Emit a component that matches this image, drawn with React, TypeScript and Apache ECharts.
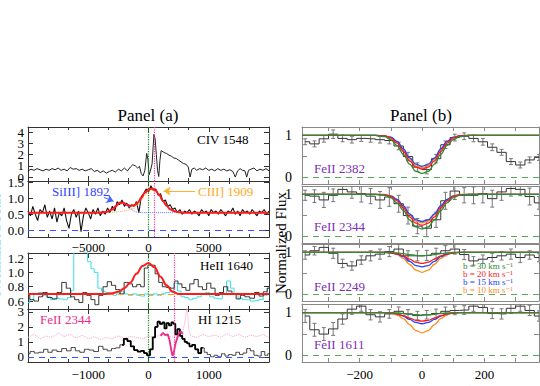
import React, { useEffect, useRef } from "react";
import * as echarts from "echarts";

const SERIF = "Times New Roman, Liberation Serif, DejaVu Serif, serif";

// ---------------- Panel (a) data ----------------
const civFlux: number[][] = [
  [-10000, 0.55], [-9750, 0.7], [-9500, 0.6], [-9250, 0.75], [-9000, 0.65], [-8750, 0.55], [-8500, 0.7],
  [-8250, 0.6], [-8000, 0.75], [-7750, 0.65], [-7500, 0.8], [-7250, 0.6], [-7000, 0.7], [-6750, 0.55],
  [-6500, 0.85], [-6250, 0.7], [-6000, 0.75], [-5750, 0.6], [-5500, 0.7], [-5250, 0.55], [-5000, 0.65],
  [-4750, 0.75], [-4500, 0.5], [-4250, 0.6], [-4000, 0.4], [-3750, 0.55], [-3500, 0.35], [-3250, 0.5],
  [-3000, 0.6], [-2750, 0.45], [-2500, 0.7], [-2250, 0.55], [-2000, 0.8], [-1750, 0.55], [-1500, 0.9],
  [-1300, 1.1], [-1100, 1.0], [-900, 0.8], [-750, 0.95], [-600, 0.3], [-450, 0.1], [-300, 0.6],
  [-150, 2.1], [-50, 1.6], [50, 0.2], [150, 0.5], [300, 1.2], [450, 3.8], [550, 3.4], [650, 2.0],
  [750, 0.6], [850, 0.05], [950, 1.5], [1050, 2.35], [1200, 2.25], [1350, 2.15], [1500, 2.1],
  [1700, 1.95], [1900, 1.85], [2100, 1.7], [2300, 1.65], [2500, 1.5], [2700, 1.35], [2900, 1.2],
  [3100, 1.15], [3300, 0.9], [3450, 0.0], [3600, 0.7], [3800, 0.8], [4000, 0.6], [4250, 0.75],
  [4500, 0.65], [4750, 0.8], [5000, 0.6], [5250, 0.7], [5500, 0.55], [5750, 0.75], [6000, 0.6],
  [6250, 0.7], [6500, 0.55], [6750, 0.65], [7000, 0.5], [7200, 0.0], [7400, 0.55], [7600, 0.75],
  [7800, 0.6], [8000, 0.55], [8150, 0.0], [8300, 0.6], [8500, 0.7], [8750, 0.8], [9000, 0.55],
  [9250, 0.7], [9500, 0.6], [9750, 0.75], [10000, 0.55],
];

const ciiiFlux: number[][] = [
  [-10000, 0.6], [-9800, 0.45], [-9600, 0.75], [-9400, 0.5], [-9200, 0.3], [-9000, 0.65], [-8800, 0.55],
  [-8600, 0.8], [-8400, 0.4], [-8200, 0.6], [-8000, 0.35], [-7800, 0.7], [-7600, 0.25], [-7400, 0.55],
  [-7200, 0.45], [-7000, 0.7], [-6800, 0.3], [-6600, 0.05], [-6400, 0.5], [-6200, 0.65], [-6000, 0.4],
  [-5800, 0.6], [-5600, -0.05], [-5400, 0.45], [-5200, 0.7], [-5000, 0.55], [-4800, 0.35], [-4600, 0.65],
  [-4400, 0.5], [-4200, 0.7], [-4000, 0.45], [-3800, 0.6], [-3600, 0.5], [-3400, 0.7], [-3200, 0.55],
  [-3000, 0.75], [-2800, 0.6], [-2600, 0.9], [-2400, 0.8], [-2200, 0.95], [-2000, 0.75], [-1800, 0.85],
  [-1600, 0.7], [-1400, 0.8], [-1200, 0.75], [-1000, 0.9], [-800, 0.55], [-600, 1.05], [-400, 1.15],
  [-200, 1.3], [0, 1.2], [200, 1.4], [400, 1.25], [600, 1.3], [800, 1.1], [1000, 1.15], [1200, 0.9],
  [1400, 0.95], [1600, 0.75], [1800, 0.8], [2000, 0.65], [2200, 0.7], [2400, 0.55], [2600, 0.65],
  [2800, 0.5], [3000, 0.6], [3200, 0.55], [3400, 0.65], [3600, 0.5], [3800, 0.6], [4000, 0.55],
  [4200, 0.45], [4400, 0.65], [4600, 0.55], [4800, 0.6], [5000, 0.45], [5200, 0.65], [5400, 0.55],
  [5600, 0.6], [5800, 0.5], [6000, 0.65], [6200, 0.55], [6400, 0.45], [6600, 0.6], [6800, 0.55],
  [7000, 0.7], [7200, 0.5], [7400, 0.6], [7600, 0.45], [7800, 0.65], [8000, 0.55], [8200, 0.6],
  [8400, 0.5], [8600, 0.65], [8800, 0.55], [9000, 0.45], [9200, 0.6], [9400, 0.55], [9600, 0.65],
  [9800, 0.5], [10000, 0.6],
];

const ciiiFitV = [-10000, -4000, -3500, -3000, -2700, -2400, -2100, -1800, -1500, -1200, -900, -600, -300, 0, 300, 600, 900, 1200, 1500, 1800, 2100, 2500, 3000, 10000];
const ciiiFit = [0.55, 0.55, 0.57, 0.65, 0.76, 0.86, 0.86, 0.8, 0.77, 0.78, 0.86, 1.02, 1.18, 1.28, 1.31, 1.25, 1.1, 0.92, 0.77, 0.66, 0.6, 0.56, 0.55, 0.55];
const siiiComp = [0.55, 0.55, 0.57, 0.65, 0.75, 0.84, 0.85, 0.78, 0.68, 0.6, 0.56, 0.55, 0.55, 0.55, 0.55, 0.55, 0.55, 0.55, 0.55, 0.55, 0.55, 0.55, 0.55, 0.55];
const ciiiComp = [0.55, 0.55, 0.55, 0.56, 0.57, 0.58, 0.6, 0.62, 0.65, 0.69, 0.78, 0.93, 1.1, 1.23, 1.27, 1.22, 1.08, 0.9, 0.76, 0.66, 0.6, 0.56, 0.55, 0.55];

const heiiFlux: number[][] = [
  [-2000, 0.68], [-1940, 0.62], [-1860, 0.6], [-1790, 0.66], [-1720, 0.72], [-1640, 0.65], [-1560, 0.63],
  [-1480, 0.72], [-1400, 0.86], [-1330, 0.78], [-1260, 0.66], [-1190, 0.62], [-1120, 0.58], [-1060, 0.72],
  [-990, 0.68], [-920, 0.62], [-860, 0.55], [-790, 0.68], [-720, 0.8], [-650, 0.87], [-580, 0.82],
  [-510, 0.76], [-440, 0.7], [-370, 0.86], [-300, 0.84], [-230, 0.8], [-160, 0.83], [-100, 0.8],
  [-40, 1.06], [20, 1.1], [80, 1.1], [140, 0.98], [200, 0.86], [260, 0.8], [330, 0.79], [400, 0.78],
  [460, 0.88], [520, 0.84], [590, 0.79], [650, 0.75], [720, 0.84], [790, 0.9], [860, 0.8], [930, 0.76],
  [1000, 0.85], [1070, 0.78], [1140, 0.68], [1210, 0.72], [1280, 0.8], [1350, 0.74], [1420, 0.7],
  [1490, 0.63], [1560, 0.68], [1640, 0.66], [1720, 0.64], [1800, 0.72], [1870, 0.67], [1940, 0.73],
  [2000, 0.78],
];

const heiiCyan: number[][] = [
  [-2000, 0.58], [-1940, 0.62], [-1870, 0.7], [-1800, 0.72], [-1730, 0.68], [-1660, 0.66], [-1590, 0.62],
  [-1520, 0.64], [-1450, 0.63], [-1380, 0.62], [-1310, 0.65], [-1260, 0.75], [-1220, 1.6], [-1160, 1.5],
  [-1100, 1.3], [-1040, 1.28], [-980, 1.15], [-930, 1.05], [-870, 1.0], [-810, 0.78], [-750, 0.74],
  [-690, 0.72], [-620, 0.7], [-560, 0.68], [-500, 0.7], [-430, 0.73], [-370, 0.7], [-300, 0.68],
  [-230, 0.7], [-160, 0.68], [-100, 0.67], [-30, 0.7], [40, 0.68], [110, 0.7], [180, 0.68], [250, 0.7],
  [320, 0.72], [390, 0.74], [450, 0.85], [510, 0.74], [570, 0.66], [640, 0.65], [700, 0.62], [770, 0.64],
  [840, 0.66], [910, 0.7], [980, 0.72], [1050, 0.66], [1120, 0.64], [1190, 0.63], [1260, 0.7],
  [1330, 0.88], [1390, 0.78], [1450, 0.7], [1520, 0.64], [1590, 0.62], [1660, 0.62], [1730, 0.6],
  [1800, 0.61], [1870, 0.62], [1940, 0.68], [2000, 0.78],
];

const heiiFitV = [-2000, -700, -600, -500, -400, -300, -200, -100, 0, 100, 200, 300, 400, 500, 2000];
const heiiFit = [0.7, 0.7, 0.71, 0.73, 0.78, 0.86, 0.98, 1.09, 1.13, 1.07, 0.94, 0.82, 0.73, 0.7, 0.7];

const hiFlux: number[][] = [
  [-2000, 0.2], [-1930, 0.35], [-1860, 0.25], [-1780, 0.3], [-1700, 0.5], [-1640, 0.3], [-1560, 0.45],
  [-1480, 0.35], [-1400, 0.55], [-1320, 0.4], [-1250, 0.62], [-1180, 0.4], [-1100, 0.3], [-1030, 0.5],
  [-950, 0.45], [-870, 0.35], [-790, 0.7], [-720, 0.5], [-650, 0.4], [-580, 0.55], [-510, 0.6],
  [-440, 0.8], [-380, 1.2], [-320, 1.05], [-270, 0.7], [-210, 0.45], [-150, 0.35], [-100, 0.4],
  [-50, 0.25], [0, 0.1], [50, 0.5], [90, 1.3], [130, 2.0], [170, 2.35], [210, 2.2], [250, 2.3],
  [280, 1.9], [320, 2.25], [360, 2.1], [400, 2.3], [430, 2.2], [460, 1.5], [500, 1.85], [540, 1.4],
  [580, 1.2], [620, 1.0], [660, 0.9], [700, 0.7], [750, 0.8], [800, 0.5], [850, 0.25], [900, 0.6],
  [950, 0.3], [1000, 0.15], [1060, 0.0], [1120, 0.1], [1180, 0.0], [1240, 0.2], [1300, 0.05],
  [1360, 0.15], [1420, 0.1], [1480, 0.3], [1540, 0.15], [1600, 0.25], [1660, 0.55], [1720, 0.4],
  [1780, 0.1], [1840, 0.05], [1900, 0.35], [1960, 0.1], [2000, 0.2],
];

const feii2344OnHi: number[][] = [
  [200, 1.4], [240, 1.6], [280, 1.45], [320, 1.5], [350, 1.1], [380, 0.4], [400, 0.05], [420, 0.3],
  [450, 0.9], [480, 1.3], [510, 1.6], [540, 1.7], [570, 1.5],
];

const feiiDotted: number[][] = [
  [-2000, 1.3], [-1900, 1.5], [-1800, 1.2], [-1700, 1.4], [-1600, 1.3], [-1500, 1.6], [-1400, 1.35],
  [-1300, 1.5], [-1200, 1.25], [-1100, 1.45], [-1000, 1.2], [-900, 1.35], [-800, 1.15], [-700, 1.3],
  [-600, 1.2], [-500, 1.4], [-400, 1.25], [-300, 1.35], [-200, 1.3], [-100, 1.2], [0, 1.4], [100, 1.3],
  [200, 1.5], [300, 1.4], [400, 1.3], [500, 1.5], [560, 1.6], [600, 2.2], [640, 3.4], [670, 1.8],
  [700, 1.4], [800, 1.3], [900, 1.5], [1000, 1.35], [1100, 1.45], [1200, 1.3], [1300, 1.55],
  [1400, 1.35], [1500, 1.5], [1600, 1.3], [1700, 1.45], [1800, 1.35], [1900, 1.5], [2000, 1.3],
];

// ---------------- Panel (b) data ----------------
const binV = [-375, -345, -315, -285, -255, -225, -195, -165, -135, -105, -75, -45, -15, 15, 45, 75, 105, 135, 165, 195, 225, 255, 285, 315, 345, 375];

const flux2382 = [0.85, 0.8, 0.92, 1.03, 0.93, 0.9, 0.93, 0.92, 0.9, 0.88, 0.75, 0.5, 0.25, 0.19, 0.45, 0.78, 0.95, 0.98, 0.93, 0.85, 0.72, 0.6, 0.38, 0.3, 0.42, 0.48];
const err2382 = [0.07, 0.07, 0.08, 0.1, 0.08, 0.08, 0.07, 0.08, 0.08, 0.08, 0.09, 0.1, 0.1, 0.1, 0.1, 0.09, 0.08, 0.08, 0.08, 0.08, 0.08, 0.07, 0.07, 0.07, 0.07, 0.07];
const flux2344 = [0.98, 0.96, 0.87, 0.98, 1.12, 1.06, 1.02, 0.96, 0.87, 0.94, 0.78, 0.5, 0.25, 0.2, 0.4, 0.85, 1.08, 0.98, 0.98, 1.02, 0.9, 1.06, 1.14, 1.12, 0.95, 0.8];
const err2344 = [0.12, 0.15, 0.18, 0.15, 0.12, 0.15, 0.2, 0.18, 0.2, 0.22, 0.2, 0.2, 0.18, 0.2, 0.18, 0.2, 0.2, 0.18, 0.2, 0.22, 0.2, 0.2, 0.18, 0.15, 0.2, 0.15];
const flux2249 = [0.94, 1.04, 1.12, 0.98, 0.74, 0.68, 0.82, 0.92, 0.96, 1.02, 1.08, 0.92, 0.92, 0.93, 0.98, 1.04, 1.08, 0.95, 0.8, 0.84, 0.88, 0.92, 0.96, 0.88, 0.94, 0.88];
const err2249 = [0.1, 0.1, 0.12, 0.12, 0.1, 0.1, 0.1, 0.12, 0.12, 0.12, 0.12, 0.12, 0.12, 0.12, 0.12, 0.12, 0.12, 0.12, 0.1, 0.1, 0.1, 0.1, 0.12, 0.12, 0.1, 0.1];
const flux1611 = [0.92, 0.6, 0.5, 0.62, 0.85, 1.08, 1.15, 0.95, 0.9, 0.97, 1.03, 0.97, 0.93, 0.95, 0.98, 1.03, 1.05, 1.06, 1.15, 1.12, 0.98, 0.97, 1.1, 1.15, 1.05, 0.92];
const err1611 = [0.15, 0.15, 0.15, 0.15, 0.12, 0.12, 0.12, 0.12, 0.12, 0.1, 0.1, 0.1, 0.1, 0.1, 0.1, 0.1, 0.1, 0.1, 0.12, 0.12, 0.12, 0.12, 0.12, 0.12, 0.12, 0.12];

const modelV = [-385, -150, -120, -100, -80, -60, -40, -20, 0, 20, 40, 60, 80, 100, 120, 150, 375];
const m2382b30 = [1, 1, 0.97, 0.9, 0.76, 0.55, 0.32, 0.15, 0.1, 0.15, 0.32, 0.55, 0.76, 0.9, 0.97, 1, 1];
const m2382b20 = [1, 1, 0.99, 0.94, 0.82, 0.62, 0.4, 0.25, 0.2, 0.25, 0.4, 0.62, 0.82, 0.94, 0.99, 1, 1];
const m2382b15 = [1, 1, 0.99, 0.96, 0.86, 0.68, 0.47, 0.32, 0.27, 0.32, 0.47, 0.68, 0.86, 0.96, 0.99, 1, 1];
const m2382b10 = [1, 1, 0.99, 0.95, 0.85, 0.66, 0.44, 0.28, 0.23, 0.28, 0.44, 0.66, 0.85, 0.95, 0.99, 1, 1];
const m2344b30 = [1, 1, 0.98, 0.92, 0.8, 0.62, 0.4, 0.23, 0.18, 0.23, 0.4, 0.62, 0.8, 0.92, 0.98, 1, 1];
const m2344b20 = [1, 1, 0.99, 0.95, 0.85, 0.68, 0.47, 0.32, 0.27, 0.32, 0.47, 0.68, 0.85, 0.95, 0.99, 1, 1];
const m2344b15 = [1, 1, 0.99, 0.96, 0.88, 0.73, 0.54, 0.4, 0.36, 0.4, 0.54, 0.73, 0.88, 0.96, 0.99, 1, 1];
const m2344b10 = [1, 1, 1, 0.97, 0.88, 0.72, 0.52, 0.37, 0.33, 0.37, 0.52, 0.72, 0.88, 0.97, 1, 1, 1];
const m2249b30 = [1, 1, 1, 1, 0.99, 0.97, 0.95, 0.93, 0.92, 0.93, 0.95, 0.97, 0.99, 1, 1, 1, 1];
const m2249b20 = [1, 1, 1, 0.99, 0.97, 0.92, 0.84, 0.77, 0.74, 0.77, 0.84, 0.92, 0.97, 0.99, 1, 1, 1];
const m2249b15 = [1, 1, 1, 0.99, 0.96, 0.9, 0.79, 0.69, 0.66, 0.69, 0.79, 0.9, 0.96, 0.99, 1, 1, 1];
const m2249b10 = [1, 1, 1, 0.99, 0.95, 0.86, 0.72, 0.58, 0.53, 0.58, 0.72, 0.86, 0.95, 0.99, 1, 1, 1];
const m1611b30 = [1, 1, 1, 1, 0.99, 0.98, 0.96, 0.95, 0.94, 0.95, 0.96, 0.98, 0.99, 1, 1, 1, 1];
const m1611b20 = [1, 1, 1, 0.99, 0.97, 0.93, 0.87, 0.82, 0.8, 0.82, 0.87, 0.93, 0.97, 0.99, 1, 1, 1];
const m1611b15 = [1, 1, 1, 0.99, 0.97, 0.92, 0.84, 0.77, 0.74, 0.77, 0.84, 0.92, 0.97, 0.99, 1, 1, 1];
const m1611b10 = [1, 1, 1, 0.99, 0.95, 0.86, 0.72, 0.58, 0.53, 0.58, 0.72, 0.86, 0.95, 0.99, 1, 1, 1];

// tick values
const yTicksCIV = [0, 1, 2, 3, 4];
const yLabelsCIVeven = [0, 2, 4];
const yLabelsCIVodd = [1, 3];
const yTicksCIII = [0, 0.5, 1.0, 1.5];
const yTicksHeII = [0.6, 0.8, 1.0, 1.2];
const yTicksHI = [0, 1, 2, 3];
const yTicksB = [0, 0.5, 1];
const yLabelsB = [0, 1];
const xTicksB = [-300, -200, -100, 0, 100, 200, 300];
const xLabelsB = [-200, 0, 200];

const C_GREEN = "#2e8b2e";
const C_RED = "#ff1a1a";
const C_BLUE = "#2244ff";
const C_ORANGE = "#ff8c1a";
const C_PURPLE = "#7a2fb8";

const zip = (xs: number[], ys: number[]) => xs.map((x, i) => [x, ys[i]]);
const fmtNum = (v: number, dec: number) => {
  const s = Math.abs(v).toFixed(dec);
  return v < 0 ? "\u2212" + s : s;
};

export default function App() {
  const ref = useRef<HTMLDivElement>(null);
  useEffect(() => {
    if (!ref.current) return;
    const chart = echarts.init(ref.current, undefined, { renderer: "svg" });

    const grids = [
      { left: 28, top: 127, width: 241, height: 54 },
      { left: 28, top: 181, width: 241, height: 56 },
      { left: 28, top: 253, width: 241, height: 56 },
      { left: 28, top: 309, width: 241, height: 53 },
      { left: 302, top: 127, width: 237, height: 57 },
      { left: 302, top: 186, width: 237, height: 57 },
      { left: 302, top: 244, width: 237, height: 57 },
      { left: 302, top: 304, width: 237, height: 58 },
    ];

    type XS = { min: number; max: number; interval?: number; ticks?: number[]; labels?: number[] | null; showLabels: boolean };
    const xSpecs: XS[] = [
      { min: -10000, max: 10000, interval: 5000, showLabels: false },
      { min: -10000, max: 10000, interval: 5000, showLabels: true },
      { min: -2000, max: 2000, interval: 1000, showLabels: false },
      { min: -2000, max: 2000, interval: 1000, showLabels: true },
      { min: -385, max: 375, ticks: xTicksB, labels: xLabelsB, showLabels: false },
      { min: -385, max: 375, ticks: xTicksB, labels: xLabelsB, showLabels: false },
      { min: -385, max: 375, ticks: xTicksB, labels: xLabelsB, showLabels: false },
      { min: -385, max: 375, ticks: xTicksB, labels: xLabelsB, showLabels: true },
    ];
    type YS = { min: number; max: number; ticks: number[]; labels: number[]; dec: number };
    const ySpecs: YS[] = [
      { min: -0.35, max: 4.45, ticks: yTicksCIV, labels: yLabelsCIVeven, dec: 0 },
      { min: -0.22, max: 1.55, ticks: yTicksCIII, labels: yTicksCIII, dec: 1 },
      { min: 0.49, max: 1.27, ticks: yTicksHeII, labels: yTicksHeII, dec: 1 },
      { min: -0.35, max: 3.2, ticks: yTicksHI, labels: yTicksHI, dec: 0 },
      { min: -0.15, max: 1.2, ticks: yTicksB, labels: yLabelsB, dec: 0 },
      { min: -0.15, max: 1.2, ticks: yTicksB, labels: yLabelsB, dec: 0 },
      { min: -0.15, max: 1.2, ticks: yTicksB, labels: yLabelsB, dec: 0 },
      { min: -0.15, max: 1.2, ticks: yTicksB, labels: yLabelsB, dec: 0 },
    ];

    const xAxes: any[] = [];
    const yAxes: any[] = [];
    xSpecs.forEach((s, gi) => {
      const col = gi < 4 ? "#333" : "#888";
      const base: any = {
        type: "value",
        gridIndex: gi,
        min: s.min,
        max: s.max,
        splitLine: { show: false },
        axisLine: { show: true, onZero: false, lineStyle: { color: col, width: 1 } },
      };
      if (s.interval) {
        base.interval = s.interval;
        base.axisTick = { show: true, inside: true, length: 5, lineStyle: { color: col } };
        base.minorTick = { show: true, splitNumber: 3, length: 3, lineStyle: { color: col } };
      } else {
        base.axisTick = { show: true, inside: true, length: 4, customValues: s.ticks, lineStyle: { color: col } };
      }
      const lab: any = {
        show: s.showLabels,
        fontFamily: SERIF,
        fontSize: 13,
        color: "#000",
        margin: gi === 1 ? 4 : 6,
        formatter: (v: number) => (Math.abs(v) >= Math.abs(s.max) - 1e-6 && s.interval ? "" : fmtNum(v, 0)),
      };
      if (s.labels) lab.customValues = s.labels;
      xAxes.push({ ...base, position: "bottom", axisLabel: lab });
      xAxes.push({ ...base, position: "top", axisLabel: { show: false } });
    });
    const yLabelStyle = (gi: number, values: number[], dec: number) => ({
      show: true,
      showMinLabel: true,
      showMaxLabel: true,
      hideOverlap: false,
      customValues: values,
      fontFamily: SERIF,
      fontSize: gi < 4 ? 13 : 14,
      color: "#000",
      margin: gi < 4 ? 4 : 10,
      formatter: (v: number) => fmtNum(v, dec),
    });
    ySpecs.forEach((s, gi) => {
      const col = gi < 4 ? "#333" : "#888";
      const base: any = {
        type: "value",
        gridIndex: gi,
        min: s.min,
        max: s.max,
        splitLine: { show: false },
        axisLine: { show: true, onZero: false, lineStyle: { color: col, width: 1 } },
        axisTick: { show: true, inside: true, length: 5, customValues: s.ticks, lineStyle: { color: col } },
      };
      yAxes.push({ ...base, position: "left", axisLabel: yLabelStyle(gi, s.labels, s.dec) });
      yAxes.push({ ...base, position: "right", axisLabel: { show: false } });
    });
    // extra label-only axis for the odd CIV labels (avoids automatic overlap hiding)
    yAxes.push({
      type: "value",
      gridIndex: 0,
      min: -0.35,
      max: 4.45,
      position: "left",
      splitLine: { show: false },
      axisLine: { show: false, onZero: false },
      axisTick: { show: false },
      axisLabel: yLabelStyle(0, yLabelsCIVodd, 0),
    });

    const ax = (gi: number) => ({ xAxisIndex: 2 * gi, yAxisIndex: 2 * gi });
    const line = (gi: number, data: any[], color: string, width: number, extra: any = {}) => ({
      type: "line",
      ...ax(gi),
      data,
      symbol: "none",
      showSymbol: false,
      silent: true,
      lineStyle: { color, width, ...(extra.lineStyle || {}) },
      ...Object.fromEntries(Object.entries(extra).filter(([k]) => k !== "lineStyle")),
    });
    const vline = (x: number, color: string) => ({ xAxis: x, lineStyle: { color, type: "dotted", width: 1.2 } });
    const hline = (y: number, color: string, type: any) => ({ yAxis: y, lineStyle: { color, type, width: 1.2 } });
    const ml = (data: any[]) => ({ silent: true, symbol: "none", label: { show: false }, animation: false, data });

    const series: any[] = [];
    // a1 CIV
    series.push(
      line(0, civFlux, "#222", 1, {
        markLine: ml([vline(0, "#1a8a1a"), vline(500, "#ff3399")]),
      })
    );
    // a2 CIII
    series.push(
      line(1, ciiiFlux, "#111", 1.1, {
        markLine: ml([hline(0, "#3355ff", [6, 5]), vline(0, "#1a8a1a"), vline(500, "#ff3399")]),
      })
    );
    series.push(line(1, zip(ciiiFitV, siiiComp), "#5577ff", 1, { smooth: 0.4, smoothMonotone: "x", lineStyle: { type: "dotted" } }));
    series.push(line(1, zip(ciiiFitV, ciiiComp), "#ffb040", 1, { smooth: 0.4, smoothMonotone: "x", lineStyle: { type: "dotted" } }));
    series.push(
      line(1, zip(ciiiFitV, ciiiFit), C_RED, 2, {
        smooth: 0.4,
        smoothMonotone: "x",
        z: 5,
        markLine: {
          silent: true,
          label: { show: false },
          symbolSize: 7,
          data: [
            [
              { coord: [-3700, 1.03], symbol: "none", lineStyle: { color: "#4466ff", width: 1, type: "solid" } },
              { coord: [-2900, 0.91], symbol: "arrow" },
            ],
            [
              { coord: [3850, 1.23], symbol: "none", lineStyle: { color: "#ffb030", width: 1, type: "solid" } },
              { coord: [1250, 1.23], symbol: "arrow" },
            ],
          ],
        },
      })
    );
    // a3 HeII
    series.push(
      line(2, heiiCyan, "#33e0ee", 1, {
        step: "middle",
        markLine: ml([hline(0.7, "#ffa020", [6, 4]), vline(0, "#1a8a1a"), vline(430, "#ff3399")]),
      })
    );
    series.push(line(2, heiiFlux, "#333", 1, { step: "middle" }));
    series.push(line(2, zip(heiiFitV, heiiFit), C_RED, 2, { smooth: 0.4, smoothMonotone: "x", z: 5 }));
    // a4 HI
    series.push(
      line(3, feiiDotted, "#ff99cc", 1, {
        lineStyle: { type: "dotted" },
        markLine: ml([hline(0, "#3355ff", [6, 5]), vline(0, "#1a8a1a"), vline(430, "#ff3399")]),
      })
    );
    series.push(line(3, hiFlux, "#444", 1, { step: "middle" }));
    series.push(line(3, hiFlux.filter((p) => p[0] >= -460 && p[0] <= 900), "#000", 1.8, { step: "middle" }));
    series.push(line(3, feii2344OnHi, "#ee2a88", 1.8, { z: 4 }));

    // Panel (b)
    const bPanels = [
      { flux: flux2382, err: err2382, m: [m2382b10, m2382b15, m2382b20, m2382b30] },
      { flux: flux2344, err: err2344, m: [m2344b10, m2344b15, m2344b20, m2344b30] },
      { flux: flux2249, err: err2249, m: [m2249b10, m2249b15, m2249b20, m2249b30] },
      { flux: flux1611, err: err1611, m: [m1611b10, m1611b15, m1611b20, m1611b30] },
    ];
    const mCols = [C_ORANGE, C_BLUE, C_RED, C_GREEN];
    bPanels.forEach((p, k) => {
      const gi = 4 + k;
      series.push({
        type: "custom",
        ...ax(gi),
        clip: true,
        silent: true,
        z: 2,
        data: binV.map((v, i) => [v, p.flux[i] - p.err[i], p.flux[i] + p.err[i]]),
        encode: { x: 0, y: [1, 2] },
        renderItem: (_params: any, api: any) => {
          const x = api.value(0);
          const a = api.coord([x, api.value(1)]);
          const b = api.coord([x, api.value(2)]);
          const st = { stroke: "#777", lineWidth: 1 };
          return {
            type: "group",
            children: [
              { type: "line", shape: { x1: a[0], y1: a[1], x2: b[0], y2: b[1] }, style: st },
              { type: "line", shape: { x1: a[0] - 2, y1: a[1], x2: a[0] + 2, y2: a[1] }, style: st },
              { type: "line", shape: { x1: b[0] - 2, y1: b[1], x2: b[0] + 2, y2: b[1] }, style: st },
            ],
          };
        },
      });
      series.push(
        line(gi, zip(binV, p.flux), "#333", 1, {
          step: "middle",
          z: 3,
          markLine: ml([hline(0, "#55aa55", [6, 5])]),
        })
      );
      p.m.forEach((arr, j) => {
        series.push(line(gi, zip(modelV, arr), mCols[j], 1.3, { smooth: 0.4, smoothMonotone: "x", z: 4 + j }));
      });
    });

    const txt = (x: number, y: number, text: string, fill: string, size: number, align = "left", extra: any = {}) => ({
      type: "text",
      x,
      y,
      silent: true,
      z: 100,
      ...extra,
      style: { text, fill, fontFamily: SERIF, fontSize: size, lineHeight: size < 10 ? 7.5 : undefined, textAlign: align, textVerticalAlign: "middle" },
    });

    const graphic = [
      txt(148, 115, "Panel (a)", "#000", 17, "center"),
      txt(421, 115, "Panel (b)", "#000", 17, "center"),
      txt(197, 139, "CIV 1548", "#000", 13),
      txt(52, 191, "SiIII] 1892", "#3344ff", 13),
      txt(198, 191, "CIII] 1909", "#ffaa22", 13),
      txt(200, 265, "HeII 1640", "#000", 13),
      txt(40, 319, "FeII 2344", "#ee2a88", 13),
      txt(198, 319, "HI 1215", "#000", 13),
      txt(314, 168, "FeII 2382", C_PURPLE, 13),
      txt(314, 226, "FeII 2344", C_PURPLE, 13),
      txt(314, 286, "FeII 2249", C_PURPLE, 13),
      txt(314, 344, "FeII 1611", C_PURPLE, 13),
      txt(463, 266, "b = 30 km s\u207B\u00B9", C_GREEN, 9),
      txt(463, 274, "b = 20 km s\u207B\u00B9", C_RED, 9),
      txt(463, 282, "b = 15 km s\u207B\u00B9", C_BLUE, 9),
      txt(463, 290, "b = 10 km s\u207B\u00B9", C_ORANGE, 9),
      txt(281, 243, "Normalized Flux", "#000", 15, "center", { rotation: Math.PI / 2 }),
      txt(-5, 245, "Normalized Flux", "#000", 15, "center", { rotation: Math.PI / 2 }),
      txt(148, 391, "Velocity (km s\u207B\u00B9)", "#000", 15, "center"),
      txt(421, 391, "Velocity (km s\u207B\u00B9)", "#000", 15, "center"),
    ];

    chart.setOption({
      animation: false,
      backgroundColor: "#fff",
      grid: grids.map((g) => ({ ...g, show: false, containLabel: false })),
      xAxis: xAxes,
      yAxis: yAxes,
      series,
      graphic,
    });
    return () => chart.dispose();
  }, []);
  return <div ref={ref} style={{ position: "absolute", left: 0, top: 0, width: 540, height: 386 }} />;
}
